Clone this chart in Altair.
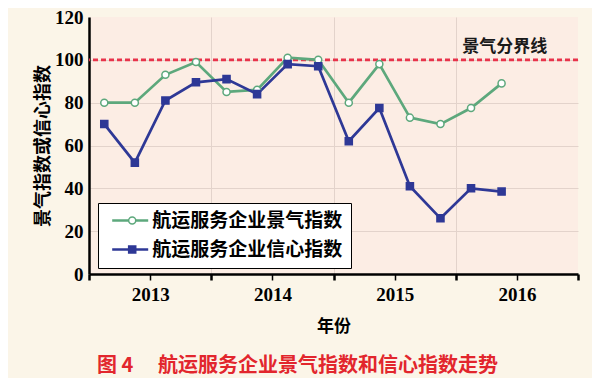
import altair as alt
import pandas as pd

# ---------------- data ----------------
quarters = [2012.625, 2012.875, 2013.125, 2013.375, 2013.625, 2013.875, 2014.125,
            2014.375, 2014.625, 2014.875, 2015.125, 2015.375, 2015.625, 2015.875]
prosperity = [80, 80, 93, 99, 85, 86, 101, 100, 80, 98, 73, 70, 77.5, 89]
confidence = [70, 52, 81, 89.5, 91, 84, 98, 97, 62, 77.5, 41, 26, 40, 38.5]
series_names = ["航运服务企业景气指数", "航运服务企业信心指数"]
marker_keys = ["景气", "信心"]
x_ticks = [2012.5, 2012.75, 2013, 2013.25, 2013.5, 2013.75, 2014, 2014.25, 2014.5,
           2014.75, 2015, 2015.25, 2015.5, 2015.75, 2016, 2016.25, 2016.5]
y_ticks = [0, 20, 40, 60, 80, 100, 120]
threshold = [100]
threshold_label = ["景气分界线"]
threshold_label_x = [2015.9]
caption = "图 4\u3000 航运服务企业景气指数和信心指数走势"

rows = []
for name, key, vals in zip(series_names, marker_keys, [prosperity, confidence]):
    for q, v in zip(quarters, vals):
        rows.append({"q": q, "v": v, "series": name, "s2": key})
df = pd.DataFrame(rows)

GREEN = "#5da87c"
BLUE = "#2e3896"
RED = "#e8334a"
CJK = "Noto Sans CJK SC"
SERIF = "Liberation Serif"

xscale = alt.Scale(domain=[2012.5, 2016.5], nice=False, zero=False)
yscale = alt.Scale(domain=[0, 120], nice=False)

x_axis = alt.Axis(
    values=x_ticks,
    labelExpr="datum.value % 1 == 0 ? format(datum.value, 'd') : ''",
    labelFont=SERIF, labelFontSize=19, labelFontWeight="bold", labelColor="black",
    labelPadding=5, labelFlush=False,
    tickSize=6, tickColor="black",
    tickWidth={"condition": {"test": "datum.value % 1 == 0.5 || datum.value == 2016.5", "value": 2.5}, "value": 1.5},
    domainColor="black", domainWidth=2.5,
    grid=True, gridColor="#e3d3cb", gridWidth=1,
    gridOpacity={"condition": {"test": "datum.value % 1 == 0.5 && datum.value < 2016.5", "value": 1}, "value": 0},
    title="年份", titleFont=CJK, titleFontSize=17, titleFontWeight="bold",
    titleColor="black", titlePadding=14,
)
y_axis = alt.Axis(
    values=y_ticks,
    labelFont=SERIF, labelFontSize=19, labelFontWeight="bold", labelColor="black",
    labelPadding=6, tickSize=0,
    domainColor="black", domainWidth=2.5,
    grid=True, gridColor="#e3d3cb", gridWidth=1,
    gridOpacity={"condition": {"test": "datum.value > 0 && datum.value < 120", "value": 1}, "value": 0},
    title="景气指数或信心指数", titleFont=CJK, titleFontSize=18, titleFontWeight="bold",
    titleColor="black", titlePadding=2,
)

leg_common = dict(
    title=None, orient="none", legendX=9, legendY=186,
    labelFont=CJK, labelFontSize=19, labelFontWeight="bold", labelColor="black",
    labelLimit=400, rowPadding=9, padding=8,
)
leg_lines = alt.Legend(
    symbolType="M-3.6,0H3.6", symbolSize=100, symbolStrokeWidth=2.6,
    symbolOffset=14.7, labelOffset=12.5,
    fillColor="white", strokeColor="black", **leg_common,
)
leg_points = alt.Legend(
    symbolSize=50, symbolStrokeWidth=1.5, symbolOffset=16.7,
    labelExpr="'\u00a0'", labelOpacity=0,
    **leg_common,
)

lines = alt.Chart(df).mark_line(strokeWidth=2.7).encode(
    x=alt.X("q:Q", scale=xscale, axis=x_axis),
    y=alt.Y("v:Q", scale=yscale, axis=y_axis),
    color=alt.Color("series:N", scale=alt.Scale(domain=series_names, range=[GREEN, BLUE]),
                    legend=leg_lines),
    order=alt.Order("q:Q"),
)

points = alt.Chart(df).mark_point(filled=True, size=50, strokeWidth=1.5, opacity=1).encode(
    x=alt.X("q:Q", scale=xscale),
    y=alt.Y("v:Q", scale=yscale),
    shape=alt.Shape("s2:N", scale=alt.Scale(domain=marker_keys, range=["circle", "square"]),
                    legend=leg_points),
    fill=alt.Fill("s2:N", scale=alt.Scale(domain=marker_keys, range=["white", BLUE]),
                  legend=leg_points),
    stroke=alt.Stroke("s2:N", scale=alt.Scale(domain=marker_keys, range=[GREEN, BLUE]),
                      legend=leg_points),
)

rule_df = pd.DataFrame({"v": threshold})
rule = alt.Chart(rule_df).mark_rule(color=RED, strokeWidth=2.8, strokeDash=[5, 3]).encode(
    y=alt.Y("v:Q", scale=yscale),
)

label_df = pd.DataFrame({"q": threshold_label_x, "v": threshold, "t": threshold_label})
label = alt.Chart(label_df).mark_text(
    font=CJK, fontSize=17, fontWeight="bold", color="#1a1a1a", dy=-13
).encode(
    x=alt.X("q:Q", scale=xscale),
    y=alt.Y("v:Q", scale=yscale),
    text="t:N",
)

chart = alt.layer(rule, lines, points, label).properties(
    width=489, height=257,
    autosize=alt.AutoSizeParams(type="none"),
    padding={"left": 81, "top": 9, "right": 14, "bottom": 104},
    background="#fbf5e8",
    title=alt.TitleParams(
        caption, orient="bottom", anchor="start", frame="group", dx=8, offset=22,
        color="#e2262d", font=CJK, fontSize=20, fontWeight="bold",
    ),
).configure_view(fill="#fcede4", stroke=None)

chart.save("out.html", embed_options={"renderer": "svg", "actions": False})
